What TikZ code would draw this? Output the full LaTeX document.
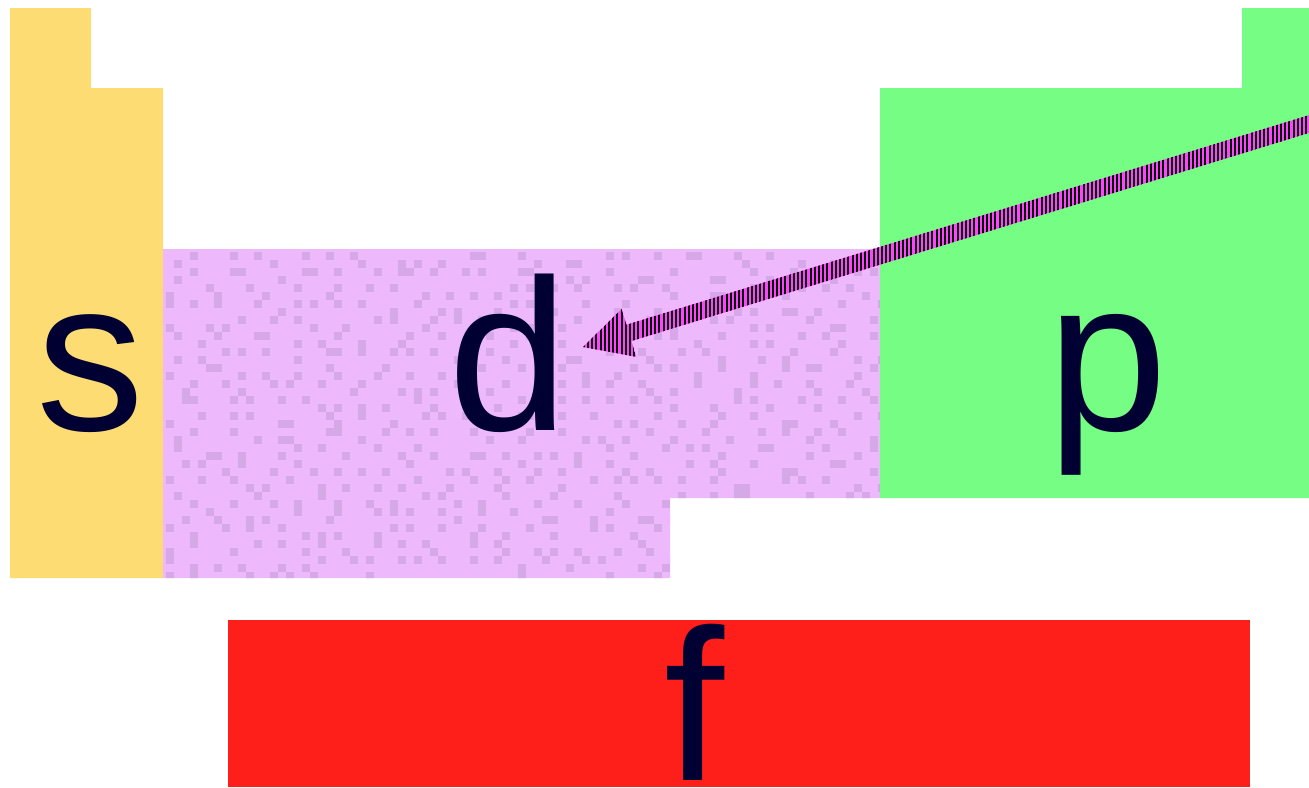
\documentclass[tikz,border=0pt]{standalone}
\usepackage{fontspec}
\setmainfont{Liberation Sans}
\usetikzlibrary{calc,patterns.meta}
\definecolor{syel}{HTML}{FEDC74}
\definecolor{dpur}{HTML}{EEB8FC}
\definecolor{ddot}{HTML}{D6A8E8}
\definecolor{pgrn}{HTML}{76FE84}
\definecolor{fred}{HTML}{FF1F1A}
\definecolor{txt}{HTML}{000033}
\definecolor{apink}{HTML}{FF44FF}
\tikzset{
  lbl/.style={anchor=base,inner sep=0pt,text=txt,font=\fontsize{108}{108}\selectfont},
  arrowbody/.style={fill=apink,postaction={pattern={Lines[angle=90,distance=2.1pt,line width=1pt]},pattern color=black}},
}
\begin{document}
\begin{tikzpicture}[x=0.5pt,y=-0.5pt]
\useasboundingbox (0,0) rectangle (1309,787);
% s block
\fill[syel] (10,8) -- (91,8) -- (91,88) -- (163,88) -- (163,578) -- (10,578) -- cycle;
% d block
\fill[dpur] (163,249) -- (880,249) -- (880,498) -- (670,498) -- (670,578) -- (163,578) -- cycle;
\begin{scope}
\clip (163,249) -- (880,249) -- (880,498) -- (670,498) -- (670,578) -- (163,578) -- cycle;
\pgfmathsetseed{11}
\foreach \i in {0,...,30}{
  \foreach \j in {0,...,21}{
    \pgfmathsetmacro{\ox}{8*floor(3*rnd)}
    \pgfmathsetmacro{\oy}{8*floor(2*rnd)}
    \fill[ddot] ({166+24*\i+\ox},{252+16*\j+\oy}) rectangle ++(8,8);
  }
}
\end{scope}
% p block
\fill[pgrn] (880,88) -- (1242,88) -- (1242,8) -- (1309,8) -- (1309,498) -- (880,498) -- cycle;
% f block
\fill[fred] (228,620) rectangle (1250,787);
% labels
\node[lbl] (s) at (90,430) {s};
\node[lbl] (d) at (509,430) {d};
\node[lbl] (p) at (1108,430) {p};
\node[lbl] (f) at (694,780) {f};
% arrow
\coordinate (tip) at (583,347);
\coordinate (src) at (1340,114.5);
\coordinate (hb) at ($(tip)!24pt!(src)$);
\path[arrowbody] (tip) -- ($(hb)!12.5pt!90:(src)$) -- ($(hb)!4.25pt!90:(src)$)
  -- ($(src)!4.25pt!-90:(hb)$) -- ($(src)!4.25pt!90:(hb)$)
  -- ($(hb)!4.25pt!-90:(src)$) -- ($(hb)!12.5pt!-90:(src)$) -- cycle;
\end{tikzpicture}
\end{document}
